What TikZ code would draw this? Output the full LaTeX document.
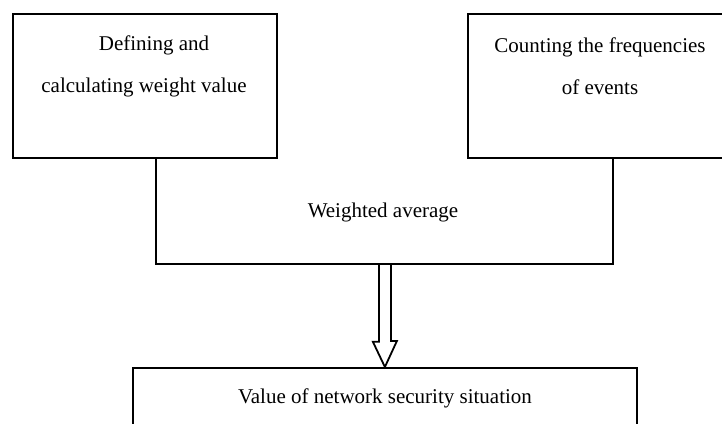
\documentclass[tikz,border=0pt]{standalone}
\usepackage{fontspec}
\setmainfont{Liberation Serif}
\begin{document}
\begin{tikzpicture}[x=1pt,y=-1pt,line width=1.8pt,
  box/.style={draw,rectangle,anchor=north west,inner sep=0pt},
  txt/.style={align=center,inner sep=0pt,font=\fontsize{21}{42}\selectfont},
  conn/.style={draw,line width=1.8pt}]
\useasboundingbox (0,0) rectangle (722,423);
\clip (0,0) rectangle (722,423);
\node[box,minimum width=264pt,minimum height=144pt] (b1) at (12,13) {};
\node[box,minimum width=270pt,minimum height=144pt] (b2) at (467,13) {};
\node[box,minimum width=504pt,minimum height=90pt] (b3) at (132,367) {};
\node[txt] (t1) at (144,66) {\hspace{20pt}Defining and\\calculating weight value};
\node[txt] (t2) at (600,66) {Counting the frequencies\\of events};
\node[txt] (wa) at (383,212) {Weighted average};
\node[txt] (t3) at (385,398) {Value of network security situation};
\coordinate (ul) at ([xshift=11pt,yshift=-105pt]b1.south);
\coordinate (u) at (b3.north |- ul);
\draw[conn,fill=white] (u) ++(-6,0) -- ++(0,78) -- ++(-6,0) -- (b3.north) -- ++(12,-26) -- ++(-6,0) -- ++(0,-78);
\draw[conn] ([xshift=11pt]b1.south) -- (ul) -| ([xshift=10pt]b2.south);
\end{tikzpicture}
\end{document}
